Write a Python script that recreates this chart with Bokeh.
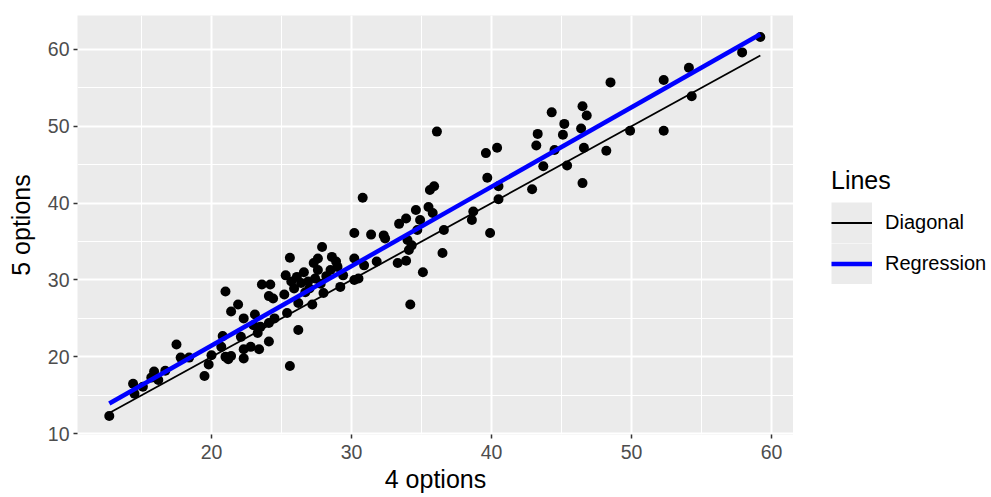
import numpy as np
from bokeh.plotting import figure
from bokeh.layouts import row
from bokeh.models import (Range1d, SingleIntervalTicker, Legend, LegendItem,
                          ColumnDataSource)
from bokeh.embed import file_html
from bokeh.resources import INLINE

# ---- data ----
x4 = [12.7, 14.4, 14.5, 15.1, 15.9, 16.2, 16.7, 15.7, 17.5, 17.8,
      18.4, 19.5, 19.8, 20.0, 20.8, 20.7, 21.0, 21.0, 21.2, 21.4,
      21.4, 21.9, 22.3, 22.1, 22.3, 22.3, 22.8, 23.4, 23.3, 23.1,
      23.5, 23.6, 24.1, 24.1, 24.5, 24.2, 24.1, 24.4, 23.0, 25.3,
      25.2, 25.4, 25.6, 25.6, 25.7, 26.1, 26.2, 26.4, 26.9, 26.2,
      27.2, 27.3, 27.6, 27.6, 27.9, 28.0, 28.5, 28.6, 28.9, 29.0,
      29.2, 29.4, 30.2, 30.5, 30.2, 30.9, 30.2, 30.8, 31.4, 31.8,
      32.3, 32.4, 33.3, 33.4, 33.9, 33.9, 34.1, 34.3, 34.0, 34.2,
      34.6, 34.7, 34.9, 35.1, 35.5, 35.6, 35.9, 35.8, 36.1, 36.6,
      36.5, 38.6, 38.7, 39.6, 39.7, 39.9, 40.4, 40.5, 40.5, 42.9,
      43.2, 43.3, 43.7, 44.3, 44.5, 45.1, 45.2, 45.4, 46.4, 46.5,
      46.8, 46.6, 46.5, 48.2, 48.5, 49.9, 52.3, 52.3, 54.1, 54.3,
      57.9, 59.2,
      27.0, 27.4, 26.7, 28.2, 27.8, 26.6, 25.9]
y5 = [12.3, 16.5, 15.2, 16.1, 18.1, 17.0, 18.2, 17.3, 21.6, 19.9,
      19.9, 17.5, 19.0, 20.2, 22.7, 21.3, 28.5, 20.0, 19.7, 20.1,
      25.9, 26.8, 25.0, 22.6, 19.8, 21.0, 21.3, 21.0, 23.1, 25.5,
      23.9, 29.4, 22.0, 24.4, 25.0, 29.4, 27.9, 27.6, 24.1, 30.6,
      28.1, 25.7, 32.9, 18.8, 29.8, 30.4, 23.5, 29.6, 29.8, 27.0,
      26.8, 32.2, 32.8, 31.3, 34.3, 28.3, 31.3, 33.0, 32.4, 31.7,
      29.1, 30.6, 30.0, 30.2, 32.8, 31.9, 36.1, 40.7, 35.9, 32.4,
      35.8, 35.4, 32.2, 37.3, 38.0, 32.5, 33.9, 34.5, 35.2, 26.8,
      39.1, 36.5, 37.8, 31.0, 39.5, 41.7, 42.2, 38.7, 49.3, 36.5,
      33.5, 37.8, 38.9, 46.5, 43.3, 36.1, 47.2, 42.2, 40.5, 41.8,
      47.5, 49.0, 44.8, 51.8, 46.9, 48.9, 50.3, 44.9, 49.7, 52.6,
      51.4, 47.2, 42.6, 46.8, 55.7, 49.4, 56.0, 49.4, 57.6, 53.9,
      59.6, 61.6,
      28.9, 30.2, 28.4, 30.5, 29.5, 31.0, 28.9]

reg_intercept = 0.81
reg_slope = 1.033

legend_title = "Lines"
series_labels = ["Diagonal", "Regression"]
x_title = "4 options"
y_title = "5 options"

FONT = "Liberation Sans"
PANEL = "#EBEBEB"
DIAG_STYLE = dict(line_color="black", line_width=1.8)
REG_STYLE = dict(line_color="#0000FF", line_width=4.5)

# ---------------- main plot ----------------
p = figure(width=793, height=497, output_backend="svg", toolbar_location=None,
           x_range=Range1d(10.43, 61.57), y_range=Range1d(9.9, 64.4),
           min_border_left=77, min_border_right=0,
           min_border_top=15, min_border_bottom=63)

p.background_fill_color = PANEL
p.border_fill_color = "white"
p.outline_line_color = None

xt = SingleIntervalTicker(interval=10, num_minor_ticks=2)
yt = SingleIntervalTicker(interval=10, num_minor_ticks=2)
p.xaxis.ticker = xt
p.yaxis.ticker = yt
p.xgrid.ticker = xt
p.ygrid.ticker = yt

for g in (p.xgrid, p.ygrid):
    g.grid_line_color = "white"
    g.grid_line_width = 2
    g.minor_grid_line_color = "white"
    g.minor_grid_line_width = 1

for ax in (p.xaxis, p.yaxis):
    ax.axis_line_color = None
    ax.minor_tick_line_color = None
    ax.major_tick_line_color = "#333333"
    ax.major_tick_line_width = 1.5
    ax.major_tick_out = 4
    ax.major_tick_in = 0
    ax.major_label_text_font = FONT
    ax.major_label_text_font_size = "19.5px"
    ax.major_label_text_color = "#4D4D4D"
    ax.axis_label_text_font = FONT
    ax.axis_label_text_font_size = "25px"
    ax.axis_label_text_font_style = "normal"
    ax.axis_label_text_color = "black"

p.xaxis.axis_label = x_title
p.yaxis.axis_label = y_title
p.xaxis.major_label_standoff = 6
p.xaxis.axis_label_standoff = 3
p.yaxis.major_label_standoff = 4
p.yaxis.axis_label_standoff = 10

src = ColumnDataSource(dict(x=x4, y=y5))
p.scatter("x", "y", source=src, size=10, fill_color="black", line_color=None)

lx = np.array([min(x4), max(x4)])
p.line(lx, lx, **DIAG_STYLE)
p.line(lx, reg_intercept + reg_slope * lx, **REG_STYLE)

# ---------------- legend panel ----------------
q = figure(width=198, height=497, output_backend="svg", toolbar_location=None,
           x_range=Range1d(0, 1), y_range=Range1d(0, 1),
           min_border=0, min_border_left=0, min_border_right=0,
           min_border_top=0, min_border_bottom=0)
q.outline_line_color = None
q.background_fill_color = "white"
q.border_fill_color = "white"
q.xaxis.visible = False
q.yaxis.visible = False
q.xgrid.visible = False
q.ygrid.visible = False

# hidden renderers, drawn only as legend keys
key_src = ColumnDataSource(dict(x=list(lx), y=list(lx)))
bg = q.line("x", "y", source=key_src, line_color=PANEL, line_width=41,
            line_cap="butt", visible=False)
k_diag = q.line("x", "y", source=key_src, visible=False, **DIAG_STYLE)
k_reg = q.line("x", "y", source=key_src, visible=False, **REG_STYLE)

legend = Legend(
    items=[LegendItem(label=series_labels[0], renderers=[bg, k_diag]),
           LegendItem(label=series_labels[1], renderers=[bg, k_reg])],
    location=(38, 150), title=legend_title,
    padding=0, margin=0, spacing=0,
    glyph_width=41, glyph_height=41, label_standoff=13,
    label_text_font=FONT, label_text_font_size="20px", label_text_color="black",
    title_text_font=FONT, title_text_font_size="25px", title_text_font_style="normal",
    title_text_color="black", title_standoff=7,
    border_line_color=None, background_fill_alpha=0,
)
q.add_layout(legend, "center")

layout = row(p, q, spacing=0)
open("out.html", "w").write(file_html(layout, INLINE))
